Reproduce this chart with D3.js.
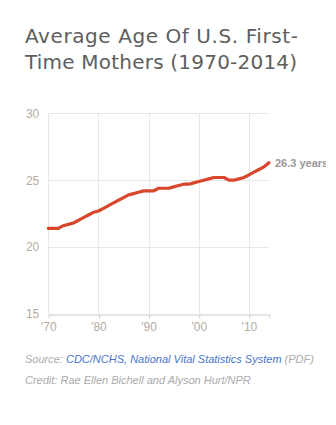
<!DOCTYPE html>
<html>
<head>
<meta charset="utf-8">
<script src="https://cdn.jsdelivr.net/npm/d3@7"></script>
<style>
  html, body { margin: 0; padding: 0; background: #fff; }
  svg { display: block; }
</style>
</head>
<body>
<svg id="chart" width="336" height="425"></svg>
<script>
const years = d3.range(1970, 2015);
const ages = [21.4, 21.4, 21.4, 21.6, 21.7, 21.8, 22.0, 22.2, 22.4, 22.6,
              22.7, 22.9, 23.1, 23.3, 23.5, 23.7, 23.9, 24.0, 24.1, 24.2,
              24.2, 24.2, 24.4, 24.4, 24.4, 24.5, 24.6, 24.7, 24.7, 24.8,
              24.9, 25.0, 25.1, 25.2, 25.2, 25.2, 25.0, 25.0, 25.1, 25.2,
              25.4, 25.6, 25.8, 26.0, 26.3];
const yTicks = [15, 20, 25, 30];
const xTicks = [1970, 1980, 1990, 2000, 2010];
const xTickLabels = ["'70", "'80", "'90", "'00", "'10"];
const titleLines = ["Average Age Of U.S. First-", "Time Mothers (1970-2014)"];
const endLabel = "26.3 years";

const svg = d3.select("#chart");

// Title
const titleG = svg.append("g");
const titleTargets = [273, 272];
titleLines.forEach((t, i) => {
  const el = titleG.append("text")
    .attr("x", 25).attr("y", 43 + i * 26)
    .attr("fill", "#5e5e5e")
    .style("font-family", "'DejaVu Sans', sans-serif")
    .style("font-size", "20px")
    .text(t);
  const w = el.node().getComputedTextLength();
  const ls = (titleTargets[i] - w) / (t.length - 1);
  el.style("letter-spacing", ls.toFixed(2) + "px");
});

// Chart area clipped at right
const chart = svg.append("svg").attr("x", 0).attr("y", 0).attr("width", 326).attr("height", 340);

const x = d3.scaleLinear().domain([1970, 2014]).range([48.3, 269]);
const y = d3.scaleLinear().domain([15, 30]).range([314, 113.3]);

// grid
chart.append("g").selectAll("line.h").data(yTicks.filter(d => d > 15)).join("line")
  .attr("x1", x(1970)).attr("x2", x(2014))
  .attr("y1", d => Math.round(y(d)) + 0.5).attr("y2", d => Math.round(y(d)) + 0.5)
  .attr("stroke", "#e8e8e8").attr("stroke-width", 1);
chart.append("g").selectAll("line.v").data(xTicks).join("line")
  .attr("x1", d => Math.round(x(d)) + 0.5).attr("x2", d => Math.round(x(d)) + 0.5)
  .attr("y1", y(30)).attr("y2", y(15))
  .attr("stroke", "#e8e8e8").attr("stroke-width", 1);

// x axis
const xAxis = d3.axisBottom(x).tickValues(xTicks.concat([2014]))
  .tickFormat(d => { const i = xTicks.indexOf(d); return i >= 0 ? xTickLabels[i] : ""; })
  .tickSize(4).tickSizeOuter(0);
const gx = chart.append("g").attr("transform", `translate(0,${Math.round(y(15)) + 0.5})`).call(xAxis);
gx.select(".domain").attr("stroke", "#ccc");
gx.selectAll(".tick line").attr("stroke", "#ccc").attr("transform", "translate(0.5,0)");
gx.selectAll(".tick text").attr("fill", "#b5ab9f")
  .style("font-family", "'Liberation Sans', Arial, sans-serif").style("font-size", "12px")
  .attr("dy", "0.85em").attr("y", 6);

// y axis labels
const yAxis = d3.axisLeft(y).tickValues(yTicks).tickSize(0).tickPadding(9);
const gy = chart.append("g").attr("transform", `translate(${x(1970)},0)`).call(yAxis);
gy.select(".domain").remove();
gy.selectAll(".tick text").attr("fill", "#b5ab9f")
  .style("font-family", "'Liberation Sans', Arial, sans-serif").style("font-size", "12px");

// line
const data = years.map((yr, i) => ({ yr, v: ages[i] }));
chart.append("path").datum(data)
  .attr("fill", "none").attr("stroke", "#d8472b").attr("stroke-width", 3.2)
  .attr("stroke-linejoin", "round").attr("stroke-linecap", "round")
  .attr("d", d3.line().x(d => x(d.yr)).y(d => y(d.v)));

// end label
const last = data[data.length - 1];
chart.append("text").attr("x", x(last.yr) + 6).attr("y", y(last.v) + 4)
  .attr("fill", "#999").style("font-weight", "bold")
  .style("font-family", "'Liberation Sans', Arial, sans-serif").style("font-size", "11px")
  .text(endLabel);

// footer
const foot = svg.append("g").style("font-family", "'Liberation Sans', Arial, sans-serif")
  .style("font-size", "11px").style("font-style", "italic");
const src = foot.append("text").attr("x", 25).attr("y", 363);
src.append("tspan").attr("fill", "#aaa").text("Source: ");
src.append("tspan").attr("fill", "#4a74c9").text("CDC/NCHS, National Vital Statistics System");
src.append("tspan").attr("fill", "#aaa").text(" (PDF)");
foot.append("text").attr("x", 25).attr("y", 384).attr("fill", "#aaa")
  .text("Credit: Rae Ellen Bichell and Alyson Hurt/NPR");
</script>
</body>
</html>
